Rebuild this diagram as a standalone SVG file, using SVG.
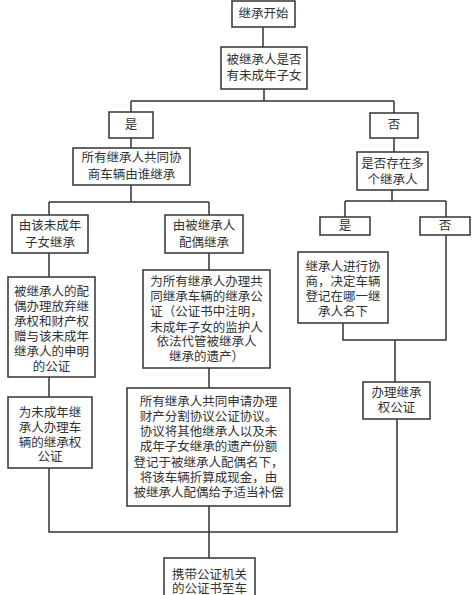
<svg xmlns="http://www.w3.org/2000/svg" width="475" height="595" viewBox="0 0 475 595">
<style>
rect{fill:#fff;stroke:#333;stroke-width:1.5}
.c path{fill:none;stroke:#333;stroke-width:1.5}
text{font-family:"Liberation Serif","Noto Sans CJK SC",serif;font-size:12.5px;fill:#333;text-anchor:middle;dominant-baseline:central}
</style>
<rect x="0" y="0" width="475" height="595" style="stroke:none"/>
<g class="c">
<path d="M263 27V47"/>
<path d="M264 89V101M131 101H394M131 101V112M394 101V113"/>
<path d="M131 138V148M394 138V152"/>
<path d="M131 185V202M49 202H209M49 202V215M209 202V215"/>
<path d="M392 190V201M345 201H446M345 201V217M446 201V217"/>
<path d="M49 253V277M49 377V397M209 253V270M209 368V388"/>
<path d="M343 323V340H446V235M395 340V382"/>
<path d="M49 468V532H397V419M209 506V558"/>
</g>
<g id="n1"><rect x="232" y="1" width="63" height="26"/><text x="263.5" y="14">继承开始</text></g>
<g id="n2"><rect x="221" y="47" width="86" height="42"/><text x="264" y="60">被继承人是否</text><text x="264" y="76">有未成年子女</text></g>
<g id="n3"><rect x="109" y="112" width="44" height="26"/><text x="131" y="125">是</text></g>
<g id="n4"><rect x="370" y="113" width="48" height="25"/><text x="394" y="125">否</text></g>
<g id="n5"><rect x="73" y="148" width="117" height="37"/><text x="131.5" y="158">所有继承人共同协</text><text x="131.5" y="175">商车辆由谁继承</text></g>
<g id="n6"><rect x="357" y="152" width="71" height="38"/><text x="392.5" y="164">是否存在多</text><text x="392.5" y="180">个继承人</text></g>
<g id="n7"><rect x="12" y="215" width="76" height="38"/><text x="50" y="226">由该未成年</text><text x="50" y="243">子女继承</text></g>
<g id="n8"><rect x="165" y="215" width="78" height="38"/><text x="204" y="226">由被继承人</text><text x="204" y="243">配偶继承</text></g>
<g id="n9"><rect x="320" y="217" width="50" height="18"/><text x="345" y="226">是</text></g>
<g id="n10"><rect x="420" y="217" width="50" height="18"/><text x="445" y="226">否</text></g>
<g id="n11"><rect x="298" y="252" width="90" height="71"/><text x="343" y="267">继承人进行协</text><text x="343" y="282">商，决定车辆</text><text x="343" y="297">登记在哪一继</text><text x="343" y="312">承人名下</text></g>
<g id="n12"><rect x="8" y="277" width="87" height="100"/><text x="51.5" y="292">被继承人的配</text><text x="51.5" y="307">偶办理放弃继</text><text x="51.5" y="322">承权和财产权</text><text x="51.5" y="337">赠与该未成年</text><text x="51.5" y="352">继承人的申明</text><text x="51.5" y="367">的公证</text></g>
<g id="n13"><rect x="143" y="270" width="127" height="98"/><text x="206.5" y="282">为所有继承人办理共</text><text x="206.5" y="297">同继承车辆的继承公</text><text x="206.5" y="312">证（公证书中注明，</text><text x="206.5" y="328">未成年子女的监护人</text><text x="206.5" y="342">依法代管被继承人</text><text x="206.5" y="357">继承的遗产）</text></g>
<g id="n14"><rect x="8" y="397" width="84" height="71"/><text x="50" y="413">为未成年继</text><text x="50" y="428">承人办理车</text><text x="50" y="443">辆的继承权</text><text x="50" y="457">公证</text></g>
<g id="n15"><rect x="127" y="388" width="163" height="118"/><text x="208.5" y="402">所有继承人共同申请办理</text><text x="208.5" y="417">财产分割协议公证协议。</text><text x="208.5" y="432">协议将其他继承人以及未</text><text x="208.5" y="447">成年子女继承的遗产份额</text><text x="208.5" y="463">登记于被继承人配偶名下，</text><text x="208.5" y="478">将该车辆折算成现金，由</text><text x="208.5" y="493">被继承人配偶给予适当补偿</text></g>
<g id="n16"><rect x="363" y="382" width="67" height="37"/><text x="396.5" y="393">办理继承</text><text x="396.5" y="408">权公证</text></g>
<g id="n17"><rect x="164" y="558" width="91" height="45"/><text x="209.5" y="575">携带公证机关</text><text x="209.5" y="589">的公证书至车</text></g>
</svg>
